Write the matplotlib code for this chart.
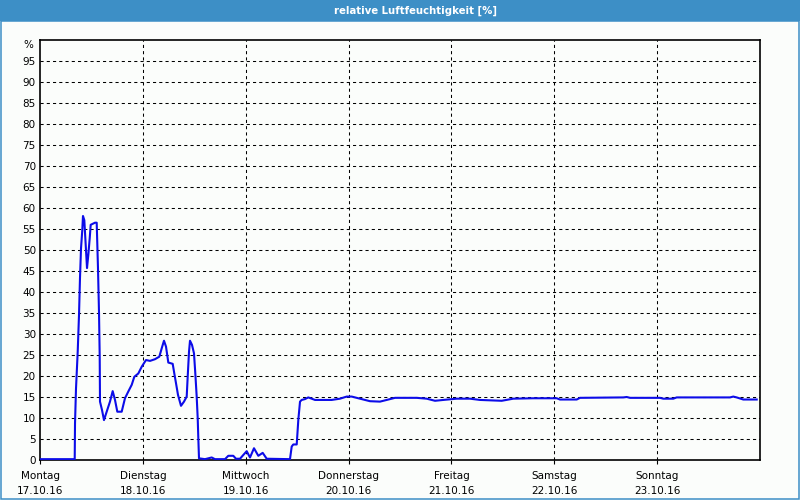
import matplotlib
matplotlib.use("Agg")
import matplotlib.pyplot as plt
from matplotlib.patches import Rectangle

# ---- data (hours since Monday 17.10.16 00:00, relative humidity %) ----
hours = [0, 8.1, 8.17, 8.4, 8.8, 9.1, 9.33, 9.57, 9.87, 10.03, 10.34, 10.73, 10.97,
         11.27, 11.6, 11.83, 12.83, 13.23, 13.53, 13.77, 13.93, 14.0, 14.47,
         14.93, 15.56, 16.33, 16.96, 17.5, 18.04, 19.06, 19.83, 20.6, 21.4,
         22.0, 22.94, 23.73, 24.73, 25.67, 26.83, 27.84, 28.4, 28.93, 29.4,
         29.94, 30.96, 31.34, 31.73, 32.2, 32.9, 33.6, 34.23, 34.46, 34.77,
         35.0, 35.47, 35.93, 36.24, 36.56, 36.8, 36.94, 37.1, 38.5, 40.06,
         40.83, 43.17, 43.94, 45.1, 45.73, 46.67, 47.44, 48.23, 49.0, 49.93,
         50.94, 51.96, 52.9, 58.33, 58.73, 59.1, 59.9, 60.27, 60.67, 61.06,
         61.83, 62.6, 64.17, 68.06, 70.0, 71.56, 72.73, 74.67, 77.0, 79.33,
         80.9, 82.83, 87.9, 90.23, 92.17, 94.1, 97.23, 100.33, 102.67, 107.73,
         110.43, 115.1, 120.57, 121.33, 125.23, 126.0, 136.1, 136.9, 137.67,
         144.67, 145.43, 147.77, 148.56, 161.0, 161.77, 162.56, 164.1, 167.23]
humidity = [0.2, 0.2, 8.7, 17.0, 25.8, 34.5, 43.3, 50.4, 54.8, 58.1, 57.1, 50.0,
            45.7, 48.8, 52.8, 56.0, 56.5, 56.5, 45.7, 35.0, 24.6, 13.9, 11.9,
            9.5, 11.5, 13.9, 16.4, 14.3, 11.5, 11.5, 14.7, 16.3, 17.9, 19.8,
            20.6, 22.2, 23.8, 23.6, 24.0, 24.6, 26.6, 28.4, 27.0, 23.2, 22.9,
            20.6, 18.3, 15.5, 12.9, 13.9, 15.1, 19.8, 25.8, 28.4, 27.4, 25.4,
            20.6, 15.1, 9.9, 5.2, 0.4, 0.2, 0.6, 0.2, 0.2, 1.0, 1.0, 0.3, 0.3,
            1.2, 2.1, 0.6, 2.8, 1.0, 1.7, 0.3, 0.2, 3.2, 3.7, 3.7, 9.5, 13.9,
            14.3, 14.5, 14.9, 14.3, 14.3, 14.6, 15.1, 15.1, 14.6, 14.0, 13.9,
            14.3, 14.8, 14.8, 14.6, 14.1, 14.3, 14.6, 14.6, 14.3, 14.1, 14.6,
            14.7, 14.7, 14.4, 14.4, 14.8, 14.9, 15.0, 14.8, 14.8, 14.6, 14.6,
            14.9, 14.9, 15.1, 14.9, 14.4, 14.4]

day_names = ["Montag", "Dienstag", "Mittwoch", "Donnerstag", "Freitag", "Samstag", "Sonntag"]
day_dates = ["17.10.16", "18.10.16", "19.10.16", "20.10.16", "21.10.16", "22.10.16", "23.10.16"]
day_ticks = [0, 24, 48, 72, 96, 120, 144]
y_ticks = list(range(0, 100, 5))

title = "relative Luftfeuchtigkeit [%]"

# ---- styling ----
bg = "#fbfdfb"
bar_blue = "#3d8fc6"
line_blue = "#0c0ce8"

fig = plt.figure(figsize=(8, 5), dpi=100, facecolor=bg)

# title bar + frame
fig.patches.append(Rectangle((0, 1 - 21 / 500), 1, 21 / 500, transform=fig.transFigure,
                             facecolor=bar_blue, edgecolor="none", zorder=0))
fig.patches.append(Rectangle((1 / 800, 1 / 500), 1 - 2 / 800, 1 - 22 / 500,
                             transform=fig.transFigure, facecolor="none",
                             edgecolor=bar_blue, linewidth=1.1, zorder=0))
fig.text(415 / 800, 1 - 10.5 / 500, title, color="white", fontsize=7.3, fontweight="bold",
         ha="center", va="center", family="DejaVu Sans")

ax = fig.add_axes([40 / 800, 40 / 500, 720 / 800, 420 / 500])
ax.set_facecolor(bg)
ax.plot(hours, humidity, color=line_blue, linewidth=1.5, zorder=3)

ax.set_xlim(0, 168)
ax.set_ylim(0, 100)

ax.set_yticks(y_ticks)
ax.set_yticklabels([str(v) for v in y_ticks])
ax.set_xticks(day_ticks)
ax.set_xticklabels([f"{n}\n{d}" for n, d in zip(day_names, day_dates)], linespacing=1.6)

ax.tick_params(axis="y", length=0, pad=3, labelsize=7.5, colors="black")
ax.tick_params(axis="x", length=3, width=0.8, direction="out", pad=5, labelsize=7.5,
               colors="black")

for v in y_ticks[1:]:
    ax.axhline(v, color="black", linewidth=0.75, linestyle=(0, (3, 3)), zorder=1)
for d in day_ticks[1:]:
    ax.axvline(d, color="black", linewidth=0.75, linestyle=(0, (3, 3)), zorder=1)

for s in ax.spines.values():
    s.set_color("black")
    s.set_linewidth(1.2)

ax.text(-0.009, 1.0 - 5 / 420, "%", transform=ax.transAxes, ha="right", va="center",
        fontsize=7.5)

fig.savefig("out.png", dpi=100, facecolor=bg)
